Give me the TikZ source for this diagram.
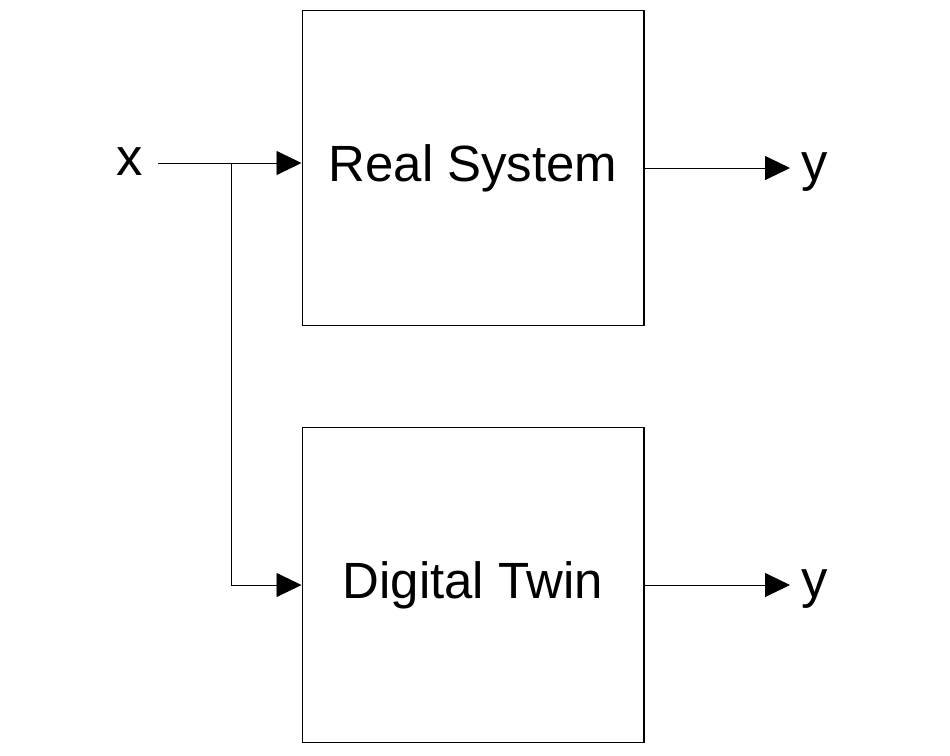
\documentclass[tikz,border=0pt]{standalone}
\usepackage{fontspec}
\setmainfont{Liberation Sans}
\usetikzlibrary{arrows.meta,positioning,calc}
\tikzset{
  block/.style={draw,line width=0.6pt,minimum width=6.84cm,minimum height=6.3cm,inner sep=0pt,font=\fontsize{29}{35}\selectfont},
  sig/.style={font=\fontsize{30}{36}\selectfont,inner sep=0pt},
  flow/.style={line width=0.5pt,-{Triangle[length=0.5cm,width=0.48cm]}}
}
\begin{document}
\begin{tikzpicture}[line cap=butt,line join=miter,x=0.02cm,y=-0.02cm]
  \useasboundingbox (0,0) rectangle (950,755);
  % blocks
  \node[block] (real) at (473,168) {Real System};
  \node[block] (twin) at (473,585) {Digital Twin};
  % signals
  \node[sig] (xin) at (130,162) {x};
  \node[sig] (yreal) at (815,172) {y};
  \node[sig] (ytwin) at (815,589) {y};
  \coordinate (in) at (158,163);
  \coordinate (split) at (231,163);
  \draw [flow] (in) -- (real.west |- in);
  \draw [flow] (split) |- (twin.west);
  \draw [flow] (real.east) -- (real.east -| 790,0);
  \draw [flow] (twin.east) -- (twin.east -| 790,0);
\end{tikzpicture}
\end{document}
